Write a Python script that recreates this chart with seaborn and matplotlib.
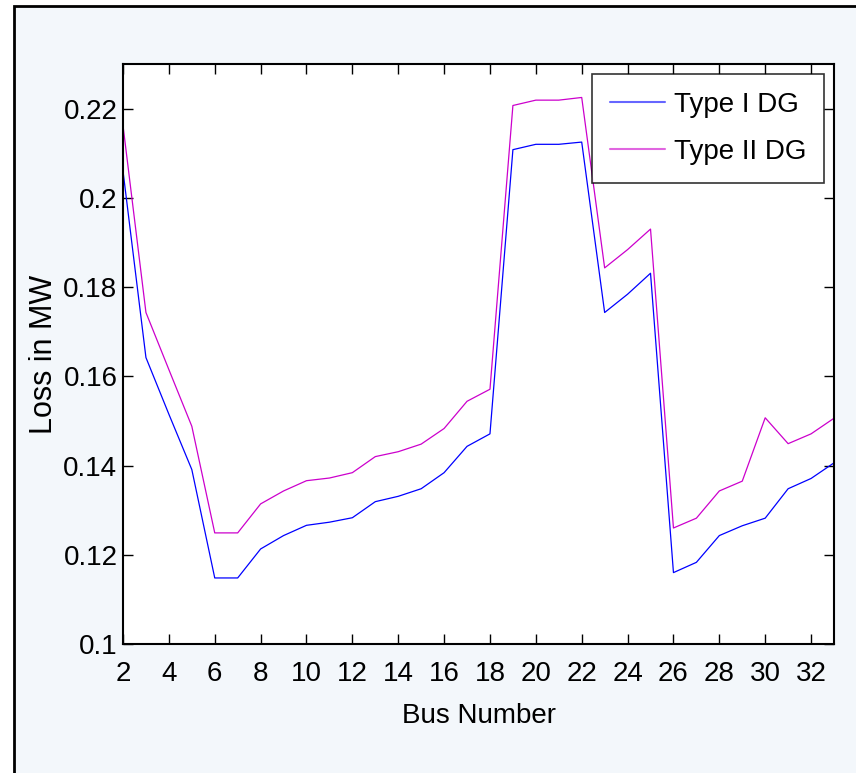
import numpy as np
import pandas as pd
import seaborn as sns
import matplotlib
matplotlib.use('agg')
import matplotlib.pyplot as plt
from matplotlib.patches import Rectangle
from matplotlib.ticker import FormatStrFormatter, MultipleLocator

bus = list(range(2, 34))
type1 = [0.2060, 0.1642, 0.1515, 0.1391, 0.1148, 0.1148, 0.1213, 0.1243, 0.1266, 0.1273,
         0.1283, 0.1319, 0.1331, 0.1348, 0.1384, 0.1443, 0.1471, 0.2108, 0.2120, 0.2120,
         0.2125, 0.1743, 0.1784, 0.1831, 0.1160, 0.1183, 0.1243, 0.1265, 0.1282, 0.1348,
         0.1371, 0.1406]
type2 = [0.2162, 0.1743, 0.1615, 0.1488, 0.1249, 0.1249, 0.1314, 0.1343, 0.1366, 0.1372,
         0.1384, 0.1420, 0.1431, 0.1448, 0.1483, 0.1544, 0.1571, 0.2207, 0.2219, 0.2219,
         0.2225, 0.1843, 0.1884, 0.1930, 0.1260, 0.1282, 0.1343, 0.1365, 0.1507, 0.1449,
         0.1471, 0.1506]
labels = ['Type I DG', 'Type II DG']

df = pd.DataFrame({
    'bus': bus * 2,
    'loss': type1 + type2,
    'type': [labels[0]] * len(bus) + [labels[1]] * len(bus),
})

sns.set_style('ticks')
plt.rcParams['font.family'] = ['Liberation Sans', 'DejaVu Sans']
plt.rcParams['text.color'] = 'black'
plt.rcParams['xtick.color'] = 'black'
plt.rcParams['ytick.color'] = 'black'
plt.rcParams['axes.labelcolor'] = 'black'

fig = plt.figure(figsize=(8.56, 7.73), dpi=100)
fig.patch.set_facecolor('white')
# outer frame of the figure
fig.patches.append(Rectangle((0.0164, -0.02), 1.1, 1.012, transform=fig.transFigure,
                             facecolor='#F3F7FB', edgecolor='black', linewidth=2, zorder=-10))

ax = fig.add_axes([0.1437, 0.1669, 0.8306, 0.7503])
ax.set_facecolor('white')
sns.lineplot(data=df, x='bus', y='loss', hue='type',
             palette={labels[0]: '#0000FF', labels[1]: '#CC00CC'},
             linewidth=0.9, ax=ax)

ax.set_xlim(2, 33)
ax.set_ylim(0.1, 0.23)
ax.xaxis.set_major_locator(MultipleLocator(2))
ax.set_yticks([0.1, 0.12, 0.14, 0.16, 0.18, 0.2, 0.22])
ax.yaxis.set_major_formatter(FormatStrFormatter('%g'))
ax.tick_params(direction='in', top=True, right=True, length=7, width=1, labelsize=20)
ax.tick_params(axis='x', pad=12)
ax.tick_params(axis='y', pad=4)
for s in ax.spines.values():
    s.set_linewidth(1.5)
    s.set_color('black')

ax.set_xlabel('Bus Number', fontsize=20, labelpad=12)
ax.set_ylabel('Loss in MW', fontsize=22, labelpad=3)

leg = ax.legend(loc='upper right', fontsize=20, frameon=True, fancybox=False,
                edgecolor='black', handlelength=2.0, handletextpad=0.3,
                borderaxespad=0.35, borderpad=0.65, labelspacing=0.75)
leg.get_frame().set_linewidth(1.2)
for h in leg.get_lines():
    h.set_alpha(0.6)
    h.set_linewidth(1.5)

fig.savefig('out.png', dpi=100)
